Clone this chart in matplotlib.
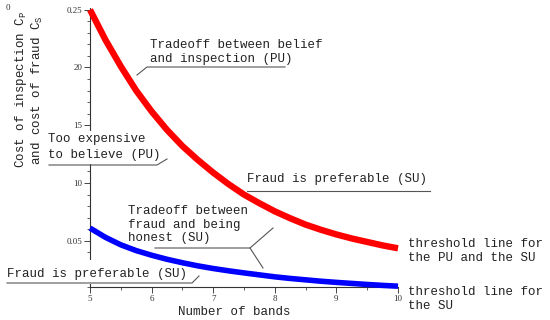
import matplotlib
matplotlib.use("Agg")
import matplotlib.pyplot as plt
from matplotlib.lines import Line2D
from matplotlib.patches import Rectangle
from matplotlib.ticker import MultipleLocator, FixedLocator, FixedFormatter

plt.rcParams['mathtext.fontset'] = 'custom'
plt.rcParams['mathtext.rm'] = 'Liberation Mono'
plt.rcParams['mathtext.it'] = 'Liberation Mono'

# ---- data ----
bands = [5, 5.25, 5.5, 5.75, 6, 6.25, 6.5, 6.75, 7, 7.25, 7.5, 7.75,
         8, 8.25, 8.5, 8.75, 9, 9.25, 9.5, 9.75, 10]
cost_pu = [25.0, 22.4, 20.1, 18.0, 16.2, 14.6, 13.2, 12.0, 10.9, 9.9, 9.0, 8.25,
           7.55, 6.95, 6.4, 5.95, 5.55, 5.2, 4.9, 4.6, 4.35]
cost_su = [6.1, 5.3, 4.65, 4.15, 3.75, 3.4, 3.1, 2.83, 2.6, 2.4, 2.22, 2.05,
           1.88, 1.74, 1.62, 1.5, 1.4, 1.31, 1.22, 1.14, 1.07]
y_tick_vals = [5, 10, 15, 20, 25]
y_tick_labels = ["0.05", "10", "15", "20", "0.25"]
x_tick_vals = [5, 6, 7, 8, 9, 10]
x_tick_labels = ["5", "6", "7", "8", "9", "10"]

W, H = 550, 320
fig = plt.figure(figsize=(W / 100, H / 100), dpi=100)
fig.patch.set_facecolor("white")

def fx(x):
    return x / W

def fy(y):
    return 1 - y / H

ax = fig.add_axes([fx(90), fy(287), (398 - 90) / W, (287 - 8) / H])
ax.set_xlim(5, 10)
ax.set_ylim(1.0, 25.15)

ax.plot(bands, cost_pu, color="#ff0000", lw=4.6, solid_capstyle="butt",
        solid_joinstyle="round", clip_on=False, zorder=3)
ax.plot(bands, cost_su, color="#0000ff", lw=4.0, solid_capstyle="butt",
        solid_joinstyle="round", clip_on=False, zorder=3)

for s in ["top", "right"]:
    ax.spines[s].set_visible(False)
for s in ["left", "bottom"]:
    ax.spines[s].set_color("#333333")
    ax.spines[s].set_linewidth(0.8)

ax.yaxis.set_major_locator(FixedLocator(y_tick_vals))
ax.yaxis.set_major_formatter(FixedFormatter(y_tick_labels))
ax.yaxis.set_minor_locator(MultipleLocator(1))
ax.xaxis.set_major_locator(FixedLocator(x_tick_vals))
ax.xaxis.set_major_formatter(FixedFormatter(x_tick_labels))
ax.xaxis.set_minor_locator(MultipleLocator(0.5))

ax.tick_params(axis="both", which="major", length=4, width=0.7, color="#444444",
               labelsize=6.5, labelcolor="#333333", pad=1.5)
ax.tick_params(axis="both", which="minor", length=2, width=0.6, color="#444444")
for lab in ax.get_xticklabels() + ax.get_yticklabels():
    lab.set_fontfamily("Liberation Serif")

mono = dict(family="Liberation Mono", size=9, color="#222222")

# axis labels
fig.text(fx(234), fy(312), "Number of bands", ha="center", va="center", **mono)
fig.text(fx(21), fy(90), r"Cost of inspection C$_\mathrm{P}$", rotation=90,
         ha="center", va="center", **mono)
fig.text(fx(37), fy(90), r"and cost of fraud C$_\mathrm{S}$", rotation=90,
         ha="center", va="center", **mono)
fig.text(fx(8), fy(8), "0", ha="center", va="center", family="Liberation Serif",
         size=6.5, color="#333333")

# white masks where text boxes cover the vertical axis
for (y0, y1) in [(131, 164), (260, 284)]:
    fig.patches.append(Rectangle((fx(82), fy(y1)), 12 / W, (y1 - y0) / H,
                                 transform=fig.transFigure, facecolor="white",
                                 edgecolor="none", zorder=2))

def line(pts):
    xs = [fx(p[0]) for p in pts]
    ys = [fy(p[1]) for p in pts]
    fig.lines.append(Line2D(xs, ys, transform=fig.transFigure, color="#555555",
                            lw=0.8, zorder=4))

def txt(x, y, s):
    fig.text(fx(x), fy(y), s, ha="left", va="center", zorder=5, **mono)

txt(150, 45, "Tradeoff between belief")
txt(150, 59, "and inspection (PU)")
line([(137, 75), (147, 67), (285, 67)])

txt(48, 139, "Too expensive")
txt(48, 155, "to believe (PU)")
line([(49, 165), (157, 165), (167, 159)])

txt(247, 179, "Fraud is preferable (SU)")
line([(247, 191), (430, 191)])

txt(128, 211, "Tradeoff between")
txt(128, 225, "fraud and being")
txt(128, 238, "honest (SU)")
line([(155, 248), (250, 248), (273, 228)])
line([(250, 248), (263, 268)])

txt(7, 274, "Fraud is preferable (SU)")
line([(7, 283), (192, 283), (199, 276)])

txt(408, 244, "threshold line for")
txt(408, 258, "the PU and the SU")
txt(408, 292, "threshold line for")
txt(408, 306, "the SU")

fig.savefig("out.png", dpi=100)
